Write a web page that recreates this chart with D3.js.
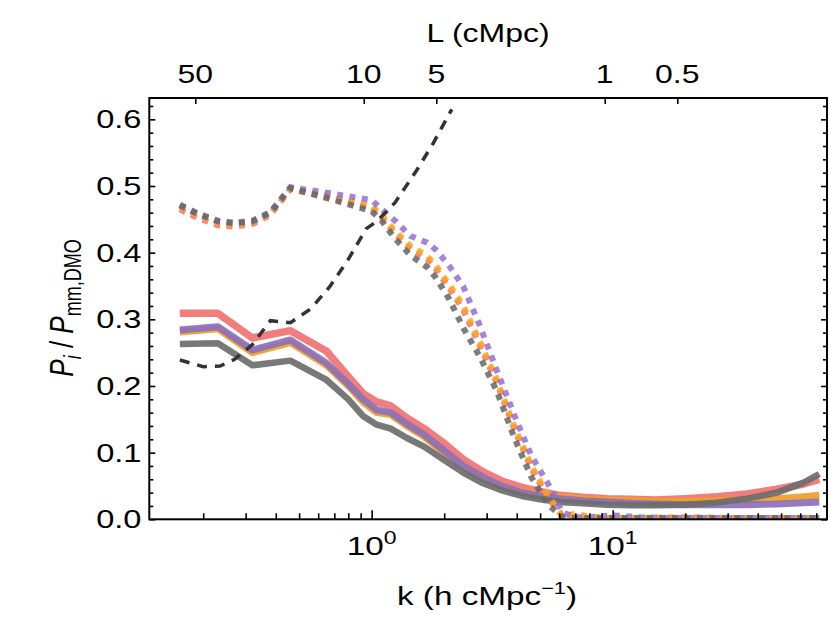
<!DOCTYPE html>
<html>
<head>
<meta charset="utf-8">
<script src="https://cdn.jsdelivr.net/npm/d3@7"></script>
<style>
  body { margin: 0; background: #fff; }
  svg text { font-family: "Liberation Sans", Arial, Helvetica, sans-serif; fill: #000; }
</style>
</head>
<body>
<svg id="chart" width="830" height="620"></svg>
<script>
// k bins (h cMpc^-1) for the solid curves
const kSolid = [0.16, 0.23, 0.32, 0.46, 0.65, 0.8, 0.92, 1.05, 1.2, 1.4, 1.65, 2.0, 2.4, 2.9, 3.5, 4.2, 5.0, 6.0, 7.5, 9.5, 12, 15, 20, 27, 36, 48, 62, 72];
const solidRed = [0.309, 0.309, 0.272, 0.283, 0.252, 0.214, 0.189, 0.176, 0.170, 0.152, 0.136, 0.114, 0.090, 0.071, 0.057, 0.048, 0.042, 0.036, 0.033, 0.031, 0.030, 0.029, 0.031, 0.034, 0.038, 0.045, 0.053, 0.060];
const solidOrange = [0.281, 0.286, 0.250, 0.265, 0.231, 0.200, 0.176, 0.160, 0.157, 0.140, 0.124, 0.100, 0.078, 0.061, 0.048, 0.041, 0.037, 0.034, 0.031, 0.029, 0.028, 0.027, 0.027, 0.028, 0.029, 0.031, 0.034, 0.036];
const solidPurple = [0.284, 0.289, 0.254, 0.269, 0.234, 0.203, 0.180, 0.164, 0.160, 0.143, 0.127, 0.103, 0.080, 0.063, 0.049, 0.040, 0.035, 0.031, 0.028, 0.026, 0.024, 0.023, 0.022, 0.022, 0.022, 0.023, 0.025, 0.026];
const solidGray = [0.263, 0.264, 0.231, 0.238, 0.209, 0.180, 0.155, 0.142, 0.136, 0.122, 0.109, 0.089, 0.070, 0.054, 0.043, 0.035, 0.030, 0.026, 0.024, 0.022, 0.021, 0.021, 0.022, 0.025, 0.031, 0.040, 0.055, 0.068];

// dotted curves
const kDot = [0.16, 0.19, 0.23, 0.27, 0.32, 0.38, 0.46, 0.65, 0.92, 1.0, 1.1, 1.25, 1.45, 1.7, 1.85, 2.1, 2.4, 2.8, 3.3, 3.9, 4.6, 5.4, 6.2, 7.0, 8.0, 10, 13, 17, 22, 30, 40, 55, 72];
const dotRed = [0.465, 0.452, 0.441, 0.439, 0.443, 0.457, 0.495, 0.484, 0.470, 0.466, 0.452, 0.428, 0.405, 0.390, 0.375, 0.347, 0.314, 0.262, 0.205, 0.136, 0.076, 0.032, 0.004, 0.002, 0.002, 0.002, 0.002, 0.002, 0.003, 0.002, 0.002, 0.002, 0.002];
const dotOrange = [0.469, 0.456, 0.445, 0.442, 0.445, 0.459, 0.496, 0.486, 0.473, 0.470, 0.456, 0.432, 0.410, 0.395, 0.380, 0.352, 0.320, 0.268, 0.210, 0.140, 0.080, 0.035, 0.005, 0.008, 0.004, 0.002, 0.002, 0.003, 0.002, 0.002, 0.002, 0.002, 0.002];
const dotPurple = [0.472, 0.459, 0.448, 0.445, 0.448, 0.461, 0.498, 0.490, 0.481, 0.479, 0.465, 0.448, 0.425, 0.415, 0.404, 0.380, 0.349, 0.292, 0.224, 0.157, 0.095, 0.053, 0.010, 0.003, 0.003, 0.006, 0.003, 0.002, 0.002, 0.002, 0.002, 0.002, 0.002];
const dotGray = [0.471, 0.458, 0.447, 0.444, 0.447, 0.460, 0.497, 0.482, 0.466, 0.462, 0.448, 0.421, 0.396, 0.378, 0.362, 0.330, 0.287, 0.245, 0.193, 0.123, 0.063, 0.022, 0.003, 0.002, 0.002, 0.002, 0.002, 0.002, 0.002, 0.002, 0.002, 0.002, 0.002];

// black dashed curve
const kDash = [0.16, 0.2, 0.235, 0.27, 0.32, 0.38, 0.46, 0.56, 0.67, 0.8, 0.95, 1.05, 1.25, 1.54, 1.8, 2.15];
const dashBlack = [0.239, 0.229, 0.230, 0.240, 0.262, 0.298, 0.295, 0.316, 0.349, 0.390, 0.436, 0.447, 0.475, 0.524, 0.564, 0.615];

// axis ticks
const yMajor = [0.0, 0.1, 0.2, 0.3, 0.4, 0.5, 0.6];
const xMajor = [1, 10];
const topL = [50, 10, 5, 1, 0.5];   // L (cMpc)
const hubble = 0.6777;

const SX = 1.28; // the reference text is stretched sideways
const plotLeft = 149.3, plotRight = 827, plotTop = 98, plotBottom = 519.3;

const svg = d3.select('#chart');

const x = d3.scaleLog().domain([0.1195, 77.5]).range([plotLeft, plotRight]);
const y = d3.scaleLinear().domain([0, 0.632]).range([plotBottom, plotTop]);

svg.append('defs').append('clipPath').attr('id', 'plotclip')
    .append('rect')
    .attr('x', plotLeft).attr('y', plotTop)
    .attr('width', plotRight - plotLeft).attr('height', plotBottom - plotTop);

const plot = svg.append('g').attr('clip-path', 'url(#plotclip)');

function pairs(ks, vs) {
    return ks.map((k, i) => [k, vs[i]]);
}

const line = d3.line().x(d => x(d[0])).y(d => y(d[1]));

// solid curves
const solids = [
    { vals: solidRed, color: '#f07272', w: 7.5 },
    { vals: solidOrange, color: '#f0a024', w: 7 },
    { vals: solidPurple, color: '#8c70ba', w: 7 },
    { vals: solidGray, color: '#6c6c6c', w: 6.5 }
];
solids.forEach(s => {
    plot.append('path')
        .datum(pairs(kSolid, s.vals))
        .attr('d', line)
        .attr('fill', 'none')
        .attr('stroke', s.color)
        .attr('stroke-width', s.w)
        .attr('stroke-linejoin', 'round')
        .attr('opacity', 0.92);
});

// dotted curves
const dots = [
    { vals: dotRed, color: '#f27070' },
    { vals: dotOrange, color: '#ffa31a' },
    { vals: dotPurple, color: '#9270cc' },
    { vals: dotGray, color: '#666666' }
];
dots.forEach(s => {
    plot.append('path')
        .datum(pairs(kDot, s.vals))
        .attr('d', line)
        .attr('fill', 'none')
        .attr('stroke', s.color)
        .attr('stroke-width', 6)
        .attr('stroke-dasharray', '6,6.5')
        .attr('opacity', 0.85);
});

// dashed curve
plot.append('path')
    .datum(pairs(kDash, dashBlack))
    .attr('d', line)
    .attr('fill', 'none')
    .attr('stroke', '#333')
    .attr('stroke-width', 3.5)
    .attr('stroke-dasharray', '10,8');

// ticks (inward)
function cleanAxis(g) {
    g.select('.domain').remove();
    g.selectAll('.tick line').attr('stroke', '#000').attr('stroke-width', 1.6);
    g.selectAll('.tick text').remove();
}
const yMinor = d3.range(0, 0.631, 0.02).filter(v => Math.abs(v * 10 - Math.round(v * 10)) > 1e-6);
const xMinor = x.ticks().filter(v => !xMajor.includes(v));

svg.append('g').attr('transform', `translate(${plotLeft},0)`)
    .call(d3.axisLeft(y).tickValues(yMajor).tickSize(-6)).call(cleanAxis);
svg.append('g').attr('transform', `translate(${plotLeft},0)`)
    .call(d3.axisLeft(y).tickValues(yMinor).tickSize(-4)).call(cleanAxis);
svg.append('g').attr('transform', `translate(${plotRight},0)`)
    .call(d3.axisRight(y).tickValues(yMajor).tickSize(-6)).call(cleanAxis);
svg.append('g').attr('transform', `translate(${plotRight},0)`)
    .call(d3.axisRight(y).tickValues(yMinor).tickSize(-4)).call(cleanAxis);
svg.append('g').attr('transform', `translate(0,${plotBottom})`)
    .call(d3.axisBottom(x).tickValues(xMajor).tickSize(-9)).call(cleanAxis);
svg.append('g').attr('transform', `translate(0,${plotBottom})`)
    .call(d3.axisBottom(x).tickValues(xMinor).tickSize(-6)).call(cleanAxis);

const topK = topL.map(L => 2 * Math.PI / (hubble * L));
svg.append('g').attr('transform', `translate(0,${plotTop})`)
    .call(d3.axisTop(x).tickValues(topK).tickSize(-6)).call(cleanAxis);

// frame
svg.append('rect')
    .attr('x', plotLeft).attr('y', plotTop)
    .attr('width', plotRight - plotLeft).attr('height', plotBottom - plotTop)
    .attr('fill', 'none')
    .attr('stroke', '#000')
    .attr('stroke-width', 2);

// labels
function label(px, py, anchor, size, extra) {
    return svg.append('text')
        .attr('transform', `translate(${px},${py}) scale(${SX},1)` + (extra || ''))
        .attr('text-anchor', anchor)
        .attr('font-size', size);
}

yMajor.forEach(v => {
    label(141.5, y(v) + 9, 'end', 25.5).text(v.toFixed(1));
});

xMajor.forEach(v => {
    const t = label(x(v), 555, 'middle', 26);
    t.append('tspan').text('10');
    t.append('tspan').attr('font-size', 18).attr('dy', -11).text(Math.round(Math.log10(v)));
});

topL.forEach((L, i) => {
    label(x(topK[i]), 83, 'middle', 25).text(L);
});

label(488, 42, 'middle', 25).text('L (cMpc)');

const xl = label(487, 605, 'middle', 26);
xl.append('tspan').text('k (h cMpc');
xl.append('tspan').attr('font-size', 17).attr('dy', -11).text('\u22121');
xl.append('tspan').attr('dy', 11).text(')');

const yl = label(73, 308, 'middle', 26, ' rotate(-90)');
yl.append('tspan').attr('font-style', 'italic').text('P');
yl.append('tspan').attr('font-style', 'italic').attr('font-size', 18).attr('dy', 6).text('i');
yl.append('tspan').attr('dy', -6).text(' / ');
yl.append('tspan').attr('font-style', 'italic').text('P');
yl.append('tspan').attr('font-size', 18).attr('dy', 6).text('mm,DMO');
</script>
</body>
</html>
